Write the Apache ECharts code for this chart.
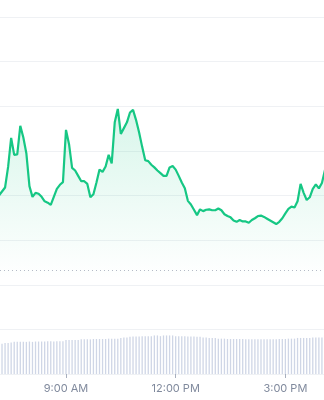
<!DOCTYPE html>
<html>
<head>
<meta charset="utf-8">
<script src="https://cdn.jsdelivr.net/npm/echarts@6/dist/echarts.min.js"></script>
<style>
html,body{margin:0;padding:0;background:#fff;}
#chart{width:324px;height:400px;}
</style>
</head>
<body>
<div id="chart"></div>
<script>
// Time grid: 5-minute steps starting at 7:05 (minutes since midnight)
const startMinute = 425;
const stepMinutes = 5;

const price = [
  3.97, 4.00, 4.09, 4.18, 4.64, 5.29, 4.91, 4.92, 5.56, 5.30,
  4.94, 4.21, 3.97, 4.06, 4.04, 3.97, 3.87, 3.84, 3.79, 3.97,
  4.15, 4.24, 4.30, 5.47, 5.15, 4.62, 4.56, 4.44, 4.32, 4.32,
  4.26, 3.96, 4.03, 4.29, 4.58, 4.53, 4.65, 4.91, 4.72, 5.64,
  5.94, 5.38, 5.51, 5.64, 5.86, 5.92, 5.69, 5.41, 5.09, 4.79,
  4.77, 4.69, 4.63, 4.56, 4.50, 4.44, 4.44, 4.63, 4.66, 4.58,
  4.44, 4.29, 4.16, 3.88, 3.80, 3.68, 3.56, 3.69, 3.65, 3.68,
  3.69, 3.67, 3.67, 3.71, 3.67, 3.58, 3.54, 3.51, 3.44, 3.41,
  3.45, 3.42, 3.42, 3.39, 3.45, 3.49, 3.54, 3.55, 3.52, 3.48,
  3.44, 3.40, 3.36, 3.41, 3.49, 3.60, 3.70, 3.75, 3.73, 3.87,
  4.26, 4.06, 3.90, 3.96, 4.15, 4.25, 4.16, 4.28, 4.57, 4.66
];

const volume = [
  0.84, 0.84, 0.85, 0.87, 0.87, 0.88, 0.90, 0.90, 0.90, 0.90,
  0.90, 0.91, 0.90, 0.91, 0.91, 0.91, 0.91, 0.92, 0.92, 0.91,
  0.92, 0.92, 0.92, 0.95, 0.95, 0.95, 0.95, 0.95, 0.97, 0.97,
  0.97, 0.97, 0.98, 0.98, 0.98, 0.98, 0.98, 0.99, 0.99, 0.99,
  0.99, 1.01, 1.02, 1.02, 1.04, 1.05, 1.05, 1.05, 1.06, 1.06,
  1.06, 1.06, 1.08, 1.08, 1.06, 1.08, 1.08, 1.08, 1.08, 1.06,
  1.06, 1.06, 1.06, 1.05, 1.05, 1.05, 1.04, 1.04, 1.02, 1.02,
  1.01, 1.01, 1.01, 0.99, 0.99, 0.99, 0.98, 0.98, 0.98, 0.98,
  0.98, 0.98, 0.97, 0.97, 0.97, 0.97, 0.97, 0.97, 0.97, 0.97,
  0.97, 0.97, 0.97, 0.98, 0.98, 0.98, 0.99, 0.99, 0.99, 1.01,
  1.01, 1.01, 1.01, 1.01, 1.02, 1.02, 1.02, 1.02, 1.02, 1.02
];

const referencePrice = 2.33;
const xTickMinutes = [540, 720, 900]; // 9:00 AM, 12:00 PM, 3:00 PM
const viewStartMinute = 431.7;
const viewEndMinute = 963.4;

const times = price.map((_, i) => startMinute + i * stepMinutes);
const priceData = times.map((t, i) => [t, price[i]]);
const volumeData = times.map((t, i) => [t, volume[i]]);

function fmtTime(m) {
  const h24 = Math.floor(m / 60);
  const mm = Math.round(m % 60);
  const ampm = h24 >= 12 ? 'PM' : 'AM';
  let h = h24 % 12; if (h === 0) h = 12;
  return h + ':' + (mm < 10 ? '0' : '') + mm + ' ' + ampm;
}

const chart = echarts.init(document.getElementById('chart'), null, {renderer: 'canvas'});
chart.setOption({
  animation: false,
  backgroundColor: '#ffffff',
  grid: { left: 0, right: 0, top: 17, bottom: 26, containLabel: false },
  xAxis: {
    type: 'value',
    min: viewStartMinute, max: viewEndMinute,
    axisLine: { show: false },
    axisTick: { show: true, length: 4, customValues: xTickMinutes, lineStyle: { color: '#a7afbe', width: 1 } },
    splitLine: { show: false },
    axisLabel: {
      margin: 9,
      color: '#808a9d',
      fontSize: 11,
      fontFamily: 'Inter, "Noto Sans", sans-serif',
      customValues: xTickMinutes,
      formatter: v => fmtTime(v)
    }
  },
  yAxis: [
    {
      type: 'value', min: 0, max: 8, interval: 1,
      axisLine: { show: false }, axisTick: { show: false }, axisLabel: { show: false },
      splitLine: { show: true, lineStyle: { color: '#eff1f4', width: 1 } }
    },
    {
      type: 'value', min: 0, max: 10,
      show: false, splitLine: { show: false }
    }
  ],
  series: [
    {
      type: 'bar',
      yAxisIndex: 1,
      data: volumeData,
      barWidth: 1.3,
      itemStyle: { color: '#cfd6e6' },
      silent: true
    },
    {
      type: 'line',
      yAxisIndex: 0,
      data: priceData,
      symbol: 'none',
      lineStyle: { color: '#16c784', width: 2.2 },
      areaStyle: {
        color: new echarts.graphic.LinearGradient(0, 0, 0, 1, [
          { offset: 0, color: 'rgba(22,199,132,0.24)' },
          { offset: 0.64, color: 'rgba(22,199,132,0.0)' },
          { offset: 1, color: 'rgba(22,199,132,0.0)' }
        ])
      },
      markLine: {
        silent: true,
        symbol: 'none',
        label: { show: false },
        lineStyle: { color: '#b4bac6', type: [1, 3], width: 1 },
        data: [{ yAxis: referencePrice }]
      }
    }
  ]
});
</script>
</body>
</html>
